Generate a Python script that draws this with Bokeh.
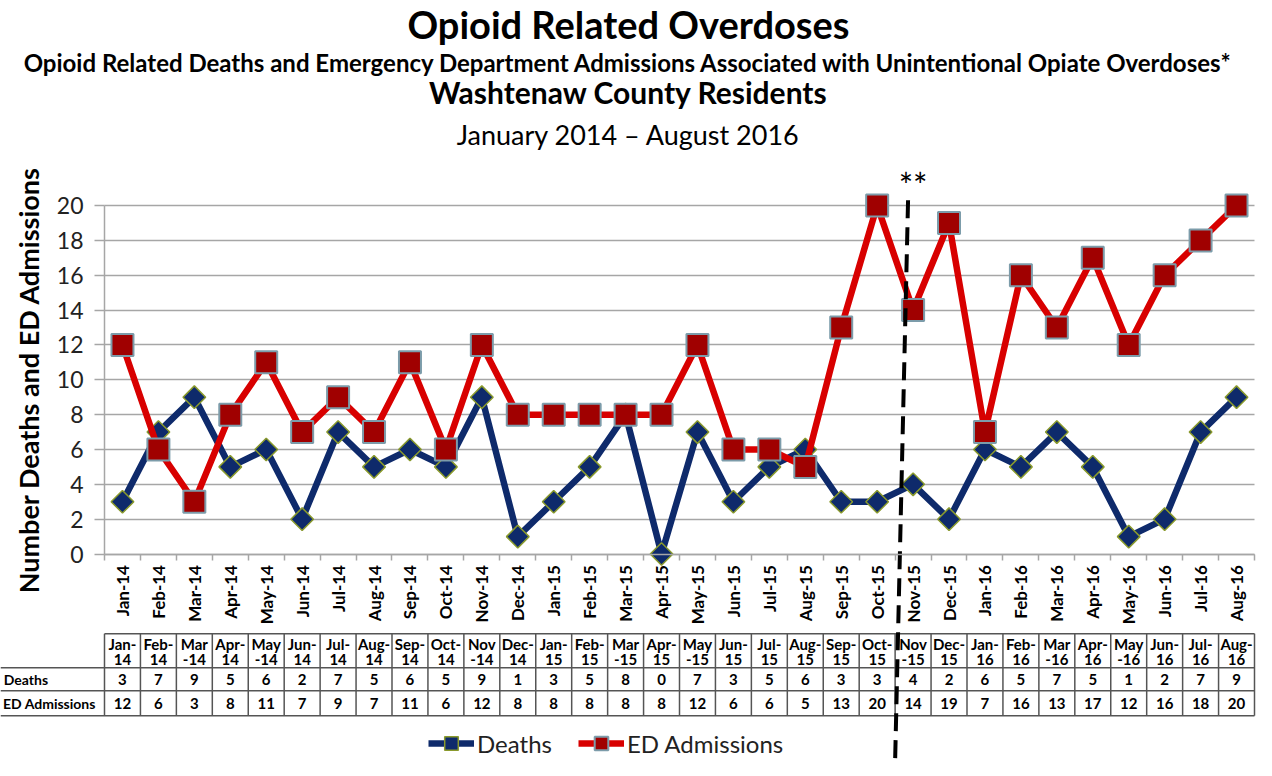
import math
from bokeh.plotting import figure
from bokeh.models import (Range1d, LinearAxis, FixedTicker, Title, Legend, LegendItem,
                          Label, ColumnDataSource, Grid)
from bokeh.core.properties import value
from bokeh.embed import file_html
from bokeh.resources import INLINE

# ---------------- data ----------------
months = ["Jan-14", "Feb-14", "Mar-14", "Apr-14", "May-14", "Jun-14", "Jul-14", "Aug-14",
          "Sep-14", "Oct-14", "Nov-14", "Dec-14", "Jan-15", "Feb-15", "Mar-15", "Apr-15",
          "May-15", "Jun-15", "Jul-15", "Aug-15", "Sep-15", "Oct-15", "Nov-15", "Dec-15",
          "Jan-16", "Feb-16", "Mar-16", "Apr-16", "May-16", "Jun-16", "Jul-16", "Aug-16"]
deaths = [3, 7, 9, 5, 6, 2, 7, 5, 6, 5, 9, 1, 3, 5, 8, 0, 7, 3, 5, 6, 3, 3, 4, 2, 6, 5, 7, 5, 1, 2, 7, 9]
ed_admissions = [12, 6, 3, 8, 11, 7, 9, 7, 11, 6, 12, 8, 8, 8, 8, 8, 12, 6, 6, 5, 13, 20, 14, 19,
                 7, 16, 13, 17, 12, 16, 18, 20]
y_ticks = [0, 2, 4, 6, 8, 10, 12, 14, 16, 18, 20]
break_after = "Oct-15"   # reporting change marked with **

title_main = "Opioid Related Overdoses"
title_sub = ("Opioid Related Deaths and Emergency Department Admissions Associated with "
             "Unintentional Opiate Overdoses*")
title_place = "Washtenaw County Residents"
title_dates = "January 2014 \u2013 August 2016"

# ---------------- style ----------------
FONT = "Lato"
NAVY = "#0E2A6B"
OLIVE = "#8A9A2C"
RED = "#D80000"
DARKRED = "#A00000"
STEEL = "#7C9CAA"
GRID = "#A6A6A6"
TABLE = "#555555"

W, H = 1256, 760
n = len(months)
X0, X1 = -3.3939, 31.5557
Y0, Y1 = -11.85, 22.47

# table geometry (in chart value units below the axis)
T_TOP, T_R1, T_R2, T_BOT = -4.57, -6.52, -7.84, -9.28
HDR1_Y, HDR2_Y, DEATHS_Y, ED_Y = -5.15, -6.05, -7.18, -8.56

split_before_hyphen = {"Mar", "May", "Nov"}
hdr_top = [m[:3] if m[:3] in split_before_hyphen else m[:4] for m in months]
hdr_bot = [m[3:] if m[:3] in split_before_hyphen else m[4:] for m in months]

src = ColumnDataSource(dict(
    x=list(range(n)), deaths=deaths, ed=ed_admissions,
    deaths_txt=[str(v) for v in deaths], ed_txt=[str(v) for v in ed_admissions],
    hdr_top=hdr_top, hdr_bot=hdr_bot,
))

p = figure(width=W, height=H, output_backend="svg", toolbar_location=None,
           x_range=Range1d(X0, X1), y_range=Range1d(Y0, Y1),
           x_axis_type=None, y_axis_type=None,
           min_border_left=0, min_border_right=0, min_border_bottom=0, min_border_top=160,
           outline_line_color=None, background_fill_color="white", border_fill_color="white")
p.title.text = ""


def make_title(txt, size, style, so):
    kw = dict(text=txt, align="center", text_font=FONT, text_font_size=size,
              text_font_style=style, text_color="black")
    try:
        return Title(standoff=so, **kw)
    except Exception:
        return Title(standoff=max(so, 0), **kw)


# titles (first added = closest to the plot)
for txt, size, style, so in [(title_dates, "27px", "normal", 23),
                             (title_place, "30px", "bold", -10),
                             (title_sub, "24px", "bold", 0),
                             (title_main, "38px", "bold", -3)]:
    p.add_layout(make_title(txt, size, style, so), "above")

# grid
yticker = FixedTicker(ticks=y_ticks)
try:
    g = Grid(dimension=1, ticker=yticker, grid_line_color=GRID, grid_line_width=1.5,
             cross_bounds=(-0.5, n - 0.5))
    p.add_layout(g)
except Exception:
    p.segment(x0=[-0.5] * len(y_ticks), x1=[n - 0.5] * len(y_ticks), y0=y_ticks, y1=y_ticks,
              line_color=GRID, line_width=1.5)

# y axis
yax = LinearAxis(ticker=yticker, fixed_location=-0.5, bounds=(0, 20),
                 axis_label="Number Deaths and ED Admissions",
                 axis_label_text_font=FONT, axis_label_text_font_style="bold",
                 axis_label_text_font_size="27px", axis_label_text_color="black",
                 axis_label_standoff=9,
                 major_label_text_font=FONT, major_label_text_font_size="23px",
                 major_label_text_color="#222222", major_label_standoff=11,
                 major_tick_out=10, major_tick_in=0, major_tick_line_color=GRID,
                 major_tick_line_width=1.5, minor_tick_line_color=None,
                 axis_line_color=GRID, axis_line_width=1.5)
p.add_layout(yax, "left")

# x axis
xax = LinearAxis(ticker=FixedTicker(ticks=list(range(n)),
                                    minor_ticks=[i - 0.5 for i in range(n + 1)]),
                 fixed_location=0, bounds=(-0.5, n - 0.5),
                 major_label_overrides={i: m for i, m in enumerate(months)},
                 major_label_orientation=math.pi / 2,
                 major_label_text_font=FONT, major_label_text_font_size="17px",
                 major_label_text_font_style="bold", major_label_text_color="black",
                 major_label_standoff=5,
                 major_tick_line_color=None, major_tick_out=0, major_tick_in=0,
                 minor_tick_line_color=GRID, minor_tick_line_width=1.5,
                 minor_tick_out=6, minor_tick_in=0,
                 axis_line_color=GRID, axis_line_width=1.5)
p.add_layout(xax, "below")

# series
l1 = p.line("x", "deaths", source=src, line_color=NAVY, line_width=6.5, line_join="round")
s1 = p.scatter("x", "deaths", source=src, marker="square", angle=math.pi / 4, size=16,
               fill_color=NAVY, line_color=OLIVE, line_width=1.5)
l2 = p.line("x", "ed", source=src, line_color=RED, line_width=6.5, line_join="round")
s2 = p.scatter("x", "ed", source=src, marker="square", size=22,
               fill_color=DARKRED, line_color=STEEL, line_width=2)

# data table
bounds_x = [i - 0.5 for i in range(n + 1)]
p.segment(x0=bounds_x, x1=bounds_x, y0=[T_TOP] * len(bounds_x), y1=[T_BOT] * len(bounds_x),
          line_color=TABLE, line_width=1.5)
p.segment(x0=[-0.5, X0, X0, X0], x1=[n - 0.5] * 4, y0=[T_TOP, T_R1, T_R2, T_BOT],
          y1=[T_TOP, T_R1, T_R2, T_BOT], line_color=TABLE, line_width=1.5)
common = dict(source=src, text_font=value(FONT), text_font_size="15px", text_font_style="bold",
              text_align="center", text_baseline="middle", text_color="black")
p.text(x="x", y=HDR1_Y, text="hdr_top", **common)
p.text(x="x", y=HDR2_Y, text="hdr_bot", **common)
p.text(x="x", y=DEATHS_Y, text="deaths_txt", **common)
p.text(x="x", y=ED_Y, text="ed_txt", **common)
p.text(x=[X0 + 0.09, X0 + 0.07], y=[DEATHS_Y, ED_Y], text=["Deaths", "ED Admissions"],
       text_font=value(FONT), text_font_size="14px", text_font_style="bold",
       text_align="left", text_baseline="middle", text_color="black")

# break marker
bx = months.index(break_after) + 0.5
p.segment(x0=[bx + 0.36], y0=[20.3], x1=[bx], y1=[Y0], line_color="black", line_width=4,
          line_dash="18 9")
p.add_layout(Label(x=bx + 0.5, y=21.2, text="**", text_font=FONT, text_font_size="34px",
                   text_align="center", text_baseline="middle", text_color="black"))

# legend
legend = Legend(items=[LegendItem(label="Deaths", renderers=[l1, s1]),
                       LegendItem(label="ED Admissions", renderers=[l2, s2])],
                orientation="horizontal", location=(428, 0), glyph_width=46, glyph_height=34,
                label_text_font=FONT, label_text_font_size="24px", label_text_color="#222222",
                label_standoff=3, spacing=26, padding=1, margin=0,
                border_line_color=None, background_fill_alpha=0)
p.add_layout(legend)

open("out.html", "w").write(file_html(p, INLINE))
